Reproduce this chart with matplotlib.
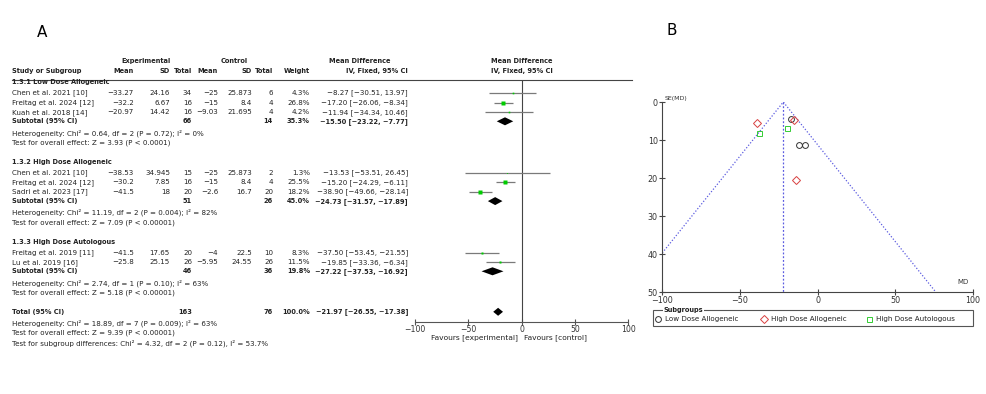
import numpy as np
import matplotlib.pyplot as plt
from matplotlib.patches import Rectangle

plt.rcParams['font.family'] = 'DejaVu Sans'

# ============ DATA ============
groups = ['1.3.1 Low Dose Allogeneic', '1.3.2 High Dose Allogeneic', '1.3.3 High Dose Autologous']
subgroup_names = ['Low Dose Allogeneic', 'High Dose Allogeneic', 'High Dose Autologous']

studies = ['Chen et al. 2021 [10]', 'Freitag et al. 2024 [12]', 'Kuah et al. 2018 [14]',
           'Chen et al. 2021 [10]', 'Freitag et al. 2024 [12]', 'Sadri et al. 2023 [17]',
           'Freitag et al. 2019 [11]', 'Lu et al. 2019 [16]']
study_group = [0, 0, 0, 1, 1, 1, 2, 2]
exp_mean = [-33.27, -32.2, -20.97, -38.53, -30.2, -41.5, -41.5, -25.8]
exp_sd = [24.16, 6.67, 14.42, 34.945, 7.85, 18, 17.65, 25.15]
exp_n = [34, 16, 16, 15, 16, 20, 20, 26]
ctl_mean = [-25, -15, -9.03, -25, -15, -2.6, -4, -5.95]
ctl_sd = [25.873, 8.4, 21.695, 25.873, 8.4, 16.7, 22.5, 24.55]
ctl_n = [6, 4, 4, 2, 4, 20, 10, 26]
weight = [4.3, 26.8, 4.2, 1.3, 25.5, 18.2, 8.3, 11.5]
md = [-8.27, -17.20, -11.94, -13.53, -15.20, -38.90, -37.50, -19.85]
md_lo = [-30.51, -26.06, -34.34, -53.51, -24.29, -49.66, -53.45, -33.36]
md_hi = [13.97, -8.34, 10.46, 26.45, -6.11, -28.14, -21.55, -6.34]

sub_exp_n = [66, 51, 46]
sub_ctl_n = [14, 26, 36]
sub_weight = [35.3, 45.0, 19.8]
sub_md = [-15.50, -24.73, -27.22]
sub_lo = [-23.22, -31.57, -37.53]
sub_hi = [-7.77, -17.89, -16.92]
sub_het = ['Heterogeneity: Chi² = 0.64, df = 2 (P = 0.72); I² = 0%',
           'Heterogeneity: Chi² = 11.19, df = 2 (P = 0.004); I² = 82%',
           'Heterogeneity: Chi² = 2.74, df = 1 (P = 0.10); I² = 63%']
sub_z = ['Test for overall effect: Z = 3.93 (P < 0.0001)',
         'Test for overall effect: Z = 7.09 (P < 0.00001)',
         'Test for overall effect: Z = 5.18 (P < 0.00001)']

tot_exp_n, tot_ctl_n, tot_weight = 163, 76, 100.0
tot_md, tot_lo, tot_hi = -21.97, -26.55, -17.38
tot_notes = ['Heterogeneity: Chi² = 18.89, df = 7 (P = 0.009); I² = 63%',
             'Test for overall effect: Z = 9.39 (P < 0.00001)',
             'Test for subgroup differences: Chi² = 4.32, df = 2 (P = 0.12), I² = 53.7%']

# ============ LAYOUT ============
W, H = 986, 394
FS = 5.1
FSB = 4.75
TXT = '#222222'
fig = plt.figure(figsize=(W / 100, H / 100), dpi=100)

bg = fig.add_axes([0, 0, 1, 1])
bg.set_xlim(0, W)
bg.set_ylim(H, 0)
bg.axis('off')


def add_px_axes(x0, y0, x1, y1):
    return fig.add_axes([x0 / W, 1 - y1 / H, (x1 - x0) / W, (y1 - y0) / H])


def num(v):
    return f'{v:g}'.replace('-', '−')


def ci(m, lo, hi):
    return f'{m:.2f} [{lo:.2f}, {hi:.2f}]'.replace('-', '−')


# column right edges (px)
cols = [134, 170, 192, 218, 252, 273, 310, 408]


def txt(x, y, s, ha='left', bold=False, size=None):
    if size is None:
        size = FSB if bold else FS
    bg.text(x, y, s, ha=ha, va='center', fontsize=size, color=TXT,
            fontweight='bold' if bold else 'normal')


bg.text(42, 32, 'A', fontsize=11, ha='center', va='center')
bg.text(672, 30, 'B', fontsize=11, ha='center', va='center')

# header
txt(146, 61, 'Experimental', ha='center', bold=True)
txt(234, 61, 'Control', ha='center', bold=True)
txt(360, 61, 'Mean Difference', ha='center', bold=True)
txt(522, 61, 'Mean Difference', ha='center', bold=True)
txt(12, 71, 'Study or Subgroup', bold=True)
for x, s in zip(cols[:7], ['Mean', 'SD', 'Total', 'Mean', 'SD', 'Total', 'Weight']):
    txt(x, 71, s, ha='right', bold=True)
txt(408, 71, 'IV, Fixed, 95% CI', ha='right', bold=True)
txt(522, 71, 'IV, Fixed, 95% CI', ha='center', bold=True)
bg.plot([12, 632], [79.5, 79.5], color='#444444', lw=0.8)

# forest plot axes (y in pixel rows)
fp = add_px_axes(415, 80, 628, 322)
fp.set_xlim(-100, 100)
fp.set_ylim(322, 80)
fp.patch.set_alpha(0)
for s in ['top', 'right', 'left']:
    fp.spines[s].set_visible(False)
fp.spines['bottom'].set_color('#555555')
fp.spines['bottom'].set_linewidth(0.8)
fp.set_yticks([])
fp.set_xticks([-100, -50, 0, 50, 100])
fp.tick_params(axis='x', direction='inout', length=4, width=0.8, color='#555555',
               labelsize=5.6, labelcolor='#333333', pad=0)
fp.axvline(0, color='#444444', lw=0.8)


def diamond(m, lo, hi, y):
    fp.fill([lo, m, hi, m], [y, y - 4, y, y + 4], color='black', lw=0)


y = 82
for g in range(3):
    txt(12, y, groups[g], bold=True)
    y += 11
    for i in [k for k in range(len(studies)) if study_group[k] == g]:
        txt(12, y, studies[i])
        vals = [num(exp_mean[i]), num(exp_sd[i]), str(exp_n[i]), num(ctl_mean[i]),
                num(ctl_sd[i]), str(ctl_n[i]), f'{weight[i]:.1f}%', ci(md[i], md_lo[i], md_hi[i])]
        for x, s in zip(cols, vals):
            txt(x, y, s, ha='right')
        fp.plot([md_lo[i], md_hi[i]], [y, y], color='#7a7a7a', lw=0.9, solid_capstyle='butt')
        fp.plot(md[i], y, 's', color='#00cc00', mec='none', ms=2.9 * np.sqrt(weight[i] / 26.8))
        y += 9.6
    y -= 0.5
    txt(12, y, 'Subtotal (95% CI)', bold=True)
    txt(cols[2], y, str(sub_exp_n[g]), ha='right', bold=True)
    txt(cols[5], y, str(sub_ctl_n[g]), ha='right', bold=True)
    txt(cols[6], y, f'{sub_weight[g]:.1f}%', ha='right', bold=True)
    txt(cols[7], y, ci(sub_md[g], sub_lo[g], sub_hi[g]), ha='right', bold=True)
    diamond(sub_md[g], sub_lo[g], sub_hi[g], y)
    y += 11.5
    txt(12, y, sub_het[g])
    y += 10
    txt(12, y, sub_z[g])
    y += 19

txt(12, y, 'Total (95% CI)', bold=True)
txt(cols[2], y, str(tot_exp_n), ha='right', bold=True)
txt(cols[5], y, str(tot_ctl_n), ha='right', bold=True)
txt(cols[6], y, f'{tot_weight:.1f}%', ha='right', bold=True)
txt(cols[7], y, ci(tot_md, tot_lo, tot_hi), ha='right', bold=True)
diamond(tot_md, tot_lo, tot_hi, y)
y += 11.3
for s in tot_notes:
    txt(12, y, s)
    y += 10

txt(518, 338, 'Favours [experimental]', ha='right', size=5.4)
txt(524, 338, 'Favours [control]', size=5.4)

# ============ FUNNEL PLOT ============
fn = add_px_axes(662, 102, 973, 292)
fn.set_xlim(-100, 100)
fn.set_ylim(50, 0)
fn.patch.set_alpha(0)
fn.spines['top'].set_visible(False)
fn.spines['right'].set_visible(False)
for s in ['left', 'bottom']:
    fn.spines[s].set_color('#444444')
    fn.spines[s].set_linewidth(0.8)
fn.set_xticks([-100, -50, 0, 50, 100])
fn.set_yticks([0, 10, 20, 30, 40, 50])
fn.tick_params(direction='inout', length=5, width=0.8, color='#444444',
               labelsize=5.8, labelcolor='#333333', pad=0.5)

se_max = 50
line_col = '#5c5ce0'
fn.plot([tot_md, tot_md], [0, se_max], color=line_col, lw=0.9, ls=(0, (1.5, 1.5)))
fn.plot([tot_md - 1.96 * se_max, tot_md, tot_md + 1.96 * se_max], [se_max, 0, se_max],
        color=line_col, lw=0.9, ls=(0, (1, 1.5)))

se = (np.array(md_hi) - np.array(md_lo)) / (2 * 1.96)
styles = [dict(marker='o', mec='#333333', ms=4.2),
          dict(marker='D', mec='#d94040', ms=3.6),
          dict(marker='s', mec='#33cc33', ms=3.6)]
for g in range(3):
    idx = [k for k in range(len(md)) if study_group[k] == g]
    fn.plot(np.array(md)[idx], se[idx], ls='none', mfc='none', mew=0.7, **styles[g])

fn.text(0.01, 1.02, 'SE(MD)', transform=fn.transAxes, fontsize=4.5, color='#333333',
        ha='left', va='center')
fn.text(0.985, 0.035, 'MD', transform=fn.transAxes, fontsize=5, color='#333333',
        ha='right', va='bottom')

# subgroup legend box
bg.add_patch(Rectangle((653, 310), 320, 16, fill=False, ec='#555555', lw=0.8))
bg.text(664, 310, 'Subgroups', fontsize=FSB, fontweight='bold', color=TXT, va='center',
        bbox=dict(facecolor='white', edgecolor='none', pad=0.5))
leg_x = [658, 764, 869]
for g in range(3):
    bg.plot(leg_x[g], 319, ls='none', mfc='none', mew=0.7, **styles[g])
    txt(leg_x[g] + 7, 319, subgroup_names[g])

fig.savefig('out.png', dpi=100)
